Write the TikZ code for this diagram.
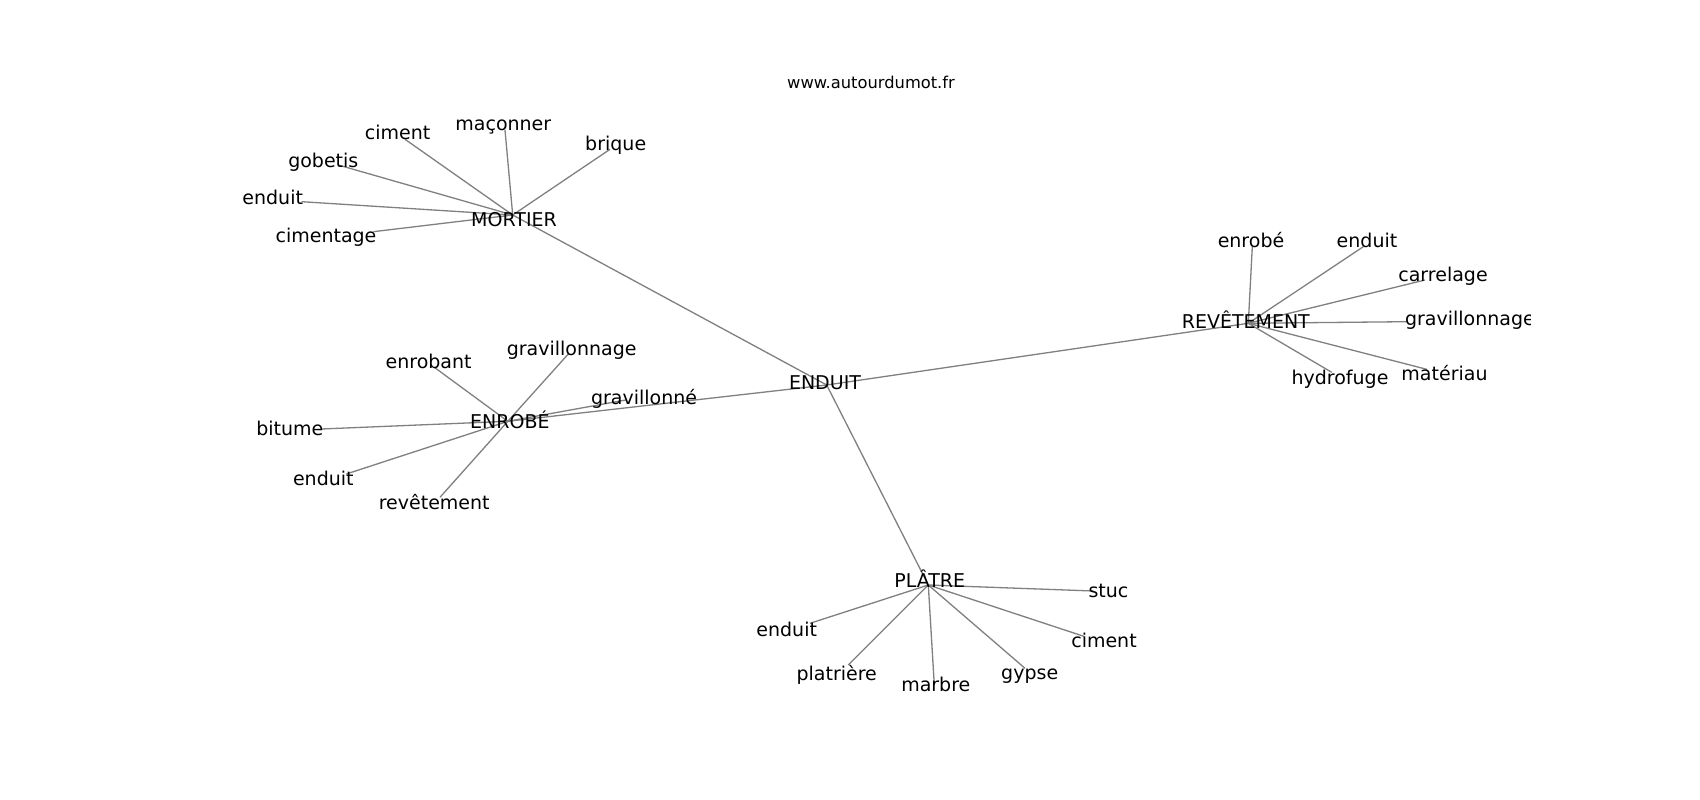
\documentclass[tikz,border=0pt]{standalone}
\usepackage{fontspec}
\setmainfont{DejaVu Sans}
\definecolor{edgegray}{RGB}{128,128,128}
\tikzset{
  lbl/.style={inner sep=0pt, font=\fontsize{19}{21}\selectfont, text height=13.85pt, text depth=0pt, anchor=center},
  ttl/.style={inner sep=0pt, font=\fontsize{16.3}{18}\selectfont, text height=11.9pt, text depth=0pt, anchor=center},
  edge/.style={draw=edgegray, line width=1.3pt}
}
\begin{document}
\begin{tikzpicture}[x=1pt,y=-1pt]
\useasboundingbox (0,0) rectangle (1700,800);
\fill[white] (0,0) rectangle (1700,800);

% node positions
\coordinate (enduit) at (826.7,385);
\coordinate (mortier) at (512.7,215);
\coordinate (enrobe) at (507.8,421.3);
\coordinate (revet) at (1248.3,323.3);
\coordinate (platre) at (928.3,585);

\coordinate (m-ciment) at (405,139.3);
\coordinate (m-maconner) at (505,130);
\coordinate (m-brique) at (610,149.3);
\coordinate (m-gobetis) at (338.3,165);
\coordinate (m-enduit) at (301.7,201.7);
\coordinate (m-cimentage) at (373.3,231.7);

\coordinate (e-enrobant) at (434.3,367.3);
\coordinate (e-gravillonnage) at (568.3,354);
\coordinate (e-bitume) at (321.4,429);
\coordinate (e-enduit) at (346.3,474);
\coordinate (e-revetement) at (440,497.3);
\coordinate (e-gravillonne) at (625.7,400);

\coordinate (r-enrobe) at (1252.3,246.7);
\coordinate (r-enduit) at (1363.3,246.7);
\coordinate (r-carrelage) at (1425,280);
\coordinate (r-gravillonnage) at (1406.7,321.7);
\coordinate (r-materiau) at (1426.7,369.3);
\coordinate (r-hydrofuge) at (1331.7,372.3);

\coordinate (p-stuc) at (1093.3,591);
\coordinate (p-enduit) at (810,623.3);
\coordinate (p-ciment) at (1085,636.7);
\coordinate (p-platriere) at (848.3,665);
\coordinate (p-gypse) at (1025,668.3);
\coordinate (p-marbre) at (934.3,685);

% edges
\draw[edge] (enduit) -- (mortier);
\draw[edge] (enduit) -- (enrobe);
\draw[edge] (enduit) -- (revet);
\draw[edge] (enduit) -- (platre);
\foreach \t in {m-ciment,m-maconner,m-brique,m-gobetis,m-enduit,m-cimentage}
  \draw[edge] (mortier) -- (\t);
\foreach \t in {e-enrobant,e-gravillonnage,e-bitume,e-enduit,e-revetement,e-gravillonne}
  \draw[edge] (enrobe) -- (\t);
\foreach \t in {r-enrobe,r-enduit,r-carrelage,r-gravillonnage,r-materiau,r-hydrofuge}
  \draw[edge] (revet) -- (\t);
\foreach \t in {p-stuc,p-enduit,p-ciment,p-platriere,p-gypse,p-marbre}
  \draw[edge] (platre) -- (\t);

% title
\node[ttl] (title) at (871,83) {www.autourdumot.fr};

% labels (clipped to the axes area)
\begin{scope}
\clip (212.5,96) rectangle (1530,712);
\node[lbl] (l-enduit) at (825,382.7) {ENDUIT};
\node[lbl] (l-mortier) at (514,219.3) {MORTIER};
\node[lbl] (l-enrobe) at (509.9,421.7) {ENROBÉ};
\node[lbl] (l-revet) at (1245.8,321.7) {REVÊTEMENT};
\node[lbl] (l-platre) at (929.7,581) {PLÂTRE};

\node[lbl] (l-m-ciment) at (397.7,132.7) {ciment};
\node[lbl] (l-m-maconner) at (503.3,123.3) {maçonner};
\node[lbl] (l-m-brique) at (615.7,143.3) {brique};
\node[lbl] (l-m-gobetis) at (323.3,160.7) {gobetis};
\node[lbl] (l-m-enduit) at (272.7,197.3) {enduit};
\node[lbl] (l-m-cimentage) at (326,235.3) {cimentage};

\node[lbl] (l-e-enrobant) at (428.6,361.7) {enrobant};
\node[lbl] (l-e-gravillonnage) at (571.7,348.3) {gravillonnage};
\node[lbl] (l-e-bitume) at (289.8,429) {bitume};
\node[lbl] (l-e-enduit) at (323.3,479) {enduit};
\node[lbl] (l-e-revetement) at (434.2,502.7) {revêtement};
\node[lbl] (l-e-gravillonne) at (644,397.3) {gravillonné};

\node[lbl] (l-r-enrobe) at (1251,240.7) {enrobé};
\node[lbl] (l-r-enduit) at (1367,240.7) {enduit};
\node[lbl] (l-r-carrelage) at (1443,275) {carrelage};
\node[lbl] (l-r-gravillonnage) at (1469.9,318.3) {gravillonnage};
\node[lbl] (l-r-materiau) at (1444.5,373.3) {matériau};
\node[lbl] (l-r-hydrofuge) at (1340,377.3) {hydrofuge};

\node[lbl] (l-p-stuc) at (1108.5,591) {stuc};
\node[lbl] (l-p-enduit) at (786.7,630) {enduit};
\node[lbl] (l-p-ciment) at (1104,641) {ciment};
\node[lbl] (l-p-platriere) at (836.7,673.3) {platrière};
\node[lbl] (l-p-gypse) at (1029.7,672.7) {gypse};
\node[lbl] (l-p-marbre) at (935.8,684.3) {marbre};
\end{scope}
\end{tikzpicture}
\end{document}
